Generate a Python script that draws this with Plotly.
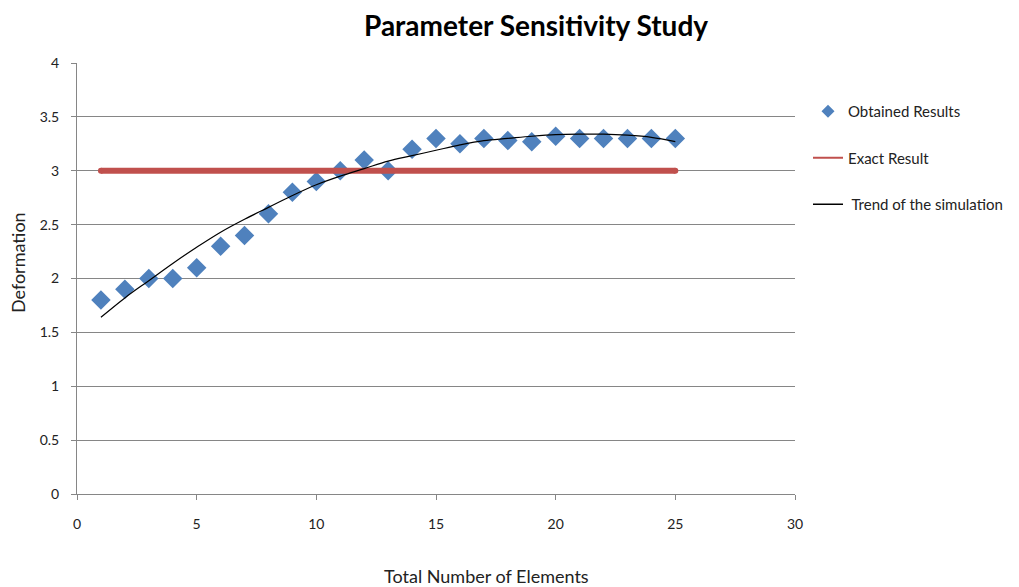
import plotly.graph_objects as go

elements = list(range(1, 26))
obtained = [1.8, 1.9, 2.0, 2.0, 2.1, 2.3, 2.4, 2.6, 2.8, 2.9, 3.0, 3.1, 3.0, 3.2, 3.3,
            3.25, 3.3, 3.28, 3.27, 3.32, 3.3, 3.3, 3.3, 3.3, 3.3]
exact_x = [1, 25]
exact_y = [3.0, 3.0]
trend = [1.64, 1.82, 1.98, 2.14, 2.29, 2.43, 2.55, 2.66, 2.77, 2.87, 2.95, 3.02, 3.09,
         3.14, 3.19, 3.24, 3.28, 3.30, 3.32, 3.335, 3.34, 3.34, 3.33, 3.31, 3.27]

FONT = "Lato, 'Open Sans', sans-serif"
BLUE = "#4F81BD"
RED = "#C0504D"

fig = go.Figure()
# data traces (legend shown via smaller proxy entries)
fig.add_trace(go.Scatter(
    x=elements, y=obtained, mode="markers", showlegend=False,
    marker=dict(symbol="diamond", size=15, color=BLUE, line=dict(width=0))))
fig.add_trace(go.Scatter(
    x=exact_x, y=exact_y, mode="lines+markers", showlegend=False,
    line=dict(color=RED, width=6),
    marker=dict(symbol="circle", size=6, color=RED, line=dict(width=0))))
fig.add_trace(go.Scatter(
    x=elements, y=trend, mode="lines", showlegend=False,
    line=dict(color="black", width=1.2, shape="spline")))

# legend entries
fig.add_trace(go.Scatter(x=[None], y=[None], mode="markers", name="Obtained Results",
                         marker=dict(symbol="diamond", size=10, color=BLUE), legendgroup="a"))
fig.add_trace(go.Scatter(x=[None], y=[None], mode="lines", name="Exact Result",
                         line=dict(color=RED, width=2), legendgroup="b"))
fig.add_trace(go.Scatter(x=[None], y=[None], mode="lines", name=" Trend of the simulation",
                         line=dict(color="black", width=1.5), legendgroup="c"))

axis_common = dict(showline=True, linecolor="#868686", linewidth=1,
                   ticks="outside", ticklen=5, tickcolor="#868686",
                   tickfont=dict(family=FONT, size=14, color="#222"),
                   zeroline=False)

fig.update_layout(
    width=1019, height=587,
    paper_bgcolor="white", plot_bgcolor="white",
    margin=dict(l=77, r=223, t=63, b=93),
    font=dict(family=FONT, size=14, color="#222"),
    xaxis=dict(range=[0, 30], tick0=0, dtick=5, showgrid=False,
               ticklabelstandoff=12, **axis_common),
    yaxis=dict(range=[0, 4], tick0=0, dtick=0.5, showgrid=True,
               gridcolor="#868686", gridwidth=1, ticklabelstandoff=9, **axis_common),
    showlegend=True,
    legend=dict(x=(808 - 77) / 719, y=(494 - 95) / 431, xanchor="left", yanchor="top",
                xref="paper", yref="paper",
                font=dict(family=FONT, size=15, color="#222"),
                tracegroupgap=24, itemwidth=30, bgcolor="rgba(0,0,0,0)"),
    annotations=[
        dict(text="<b>Parameter Sensitivity Study</b>", xref="paper", yref="paper",
             x=(537 - 77) / 719, y=1 + (63 - 25) / 431, xanchor="center", yanchor="middle",
             showarrow=False, font=dict(family=FONT, size=28, color="black")),
        dict(text="Total Number of Elements", xref="paper", yref="paper",
             x=(487 - 77) / 719, y=-(576 - 494) / 431, xanchor="center", yanchor="middle",
             showarrow=False, font=dict(family=FONT, size=18, color="#222")),
        dict(text="Deformation", xref="paper", yref="paper",
             x=-(77 - 18) / 719, y=(494 - 263) / 431, xanchor="center", yanchor="middle",
             textangle=-90, showarrow=False, font=dict(family=FONT, size=18, color="#222")),
    ],
)

fig.write_html("out.html")
